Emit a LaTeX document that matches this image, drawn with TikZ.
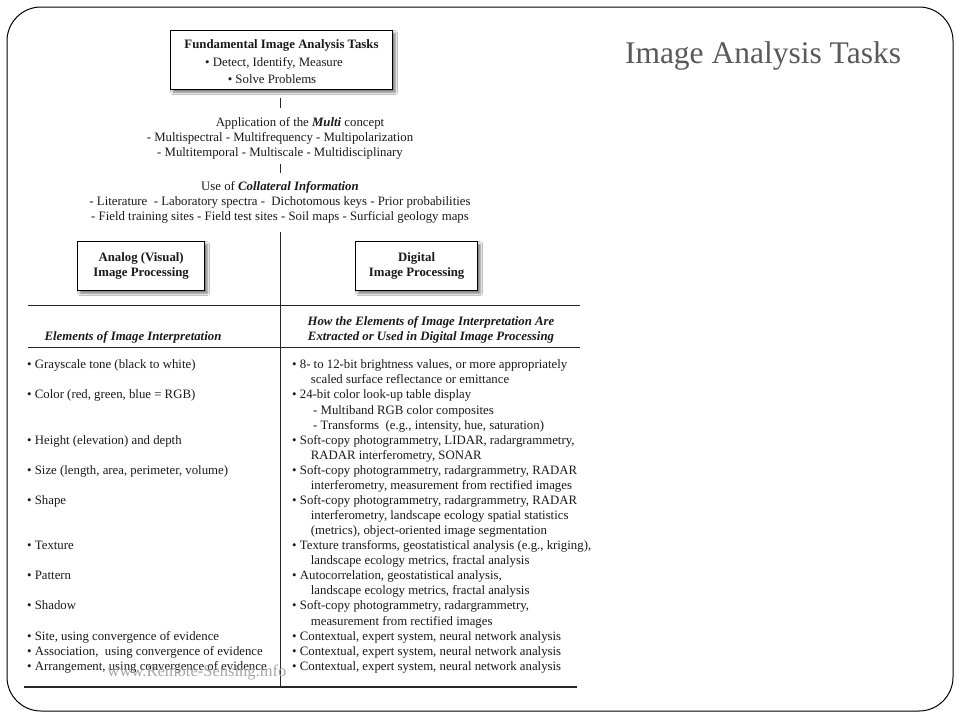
\documentclass[tikz,border=0pt]{standalone}
\usepackage{fontspec}
\setmainfont{Liberation Serif}
\usetikzlibrary{shadows.blur}

\tikzset{
  txt/.style={inner sep=0pt, anchor=base, text=black!90, font=\fontsize{12.8}{15}\selectfont},
  txtl/.style={txt, anchor=base west},
  bld/.style={txt, font=\fontsize{12.8}{15}\selectfont\bfseries},
  bit/.style={txt, font=\fontsize{12.8}{15}\selectfont\bfseries\itshape},
  lbox/.style={draw=black, line width=1.3pt, fill=white, inner sep=0pt,
    blur shadow={shadow xshift=2.5pt, shadow yshift=-2.5pt, shadow blur radius=2.5pt, shadow opacity=55}},
  rule/.style={line width=1.1pt, black!85},
  tick/.style={line width=1pt, black!85},
}
\newcommand\ind{\hspace*{18.7pt}}
\newcommand\sub{\hspace*{21pt}}

\begin{document}
\begin{tikzpicture}[x=1pt,y=-1pt]
\useasboundingbox (0,0) rectangle (960,720);
\fill[white] (0,0) rectangle (960,720);
\draw[line width=1pt, rounded corners=34pt] (7,7) rectangle (953,711);

% title
\node[txt, text=black!65, font=\fontsize{31.5}{36}\selectfont] (title) at (763,63.3) {Image Analysis Tasks};

% top box
\node[lbox, anchor=north west, minimum width=222pt, minimum height=59pt] (top) at (170,30) {};
\node[bld] (t1) at (281.5,48.3) {Fundamental Image Analysis Tasks};
\node[txt] (t2) at (274,66) {• Detect, Identify, Measure};
\node[txt] (t3) at (272,83.3) {• Solve Problems};

% multi concept
\node[txt] (m1) at (300,126) {Application of the \textbf{\textit{Multi}} concept};
\node[txt] (m2) at (280,141) {- Multispectral - Multifrequency - Multipolarization};
\node[txt] (m3) at (280,156) {- Multitemporal - Multiscale - Multidisciplinary};
\node[txt] (c1) at (280,190.5) {Use of \textbf{\textit{Collateral Information}}};
\node[txt] (c2) at (280,205.5) {- Literature\ \ - Laboratory spectra -\ \ Dichotomous keys - Prior probabilities};
\node[txt] (c3) at (280,220.5) {- Field training sites - Field test sites - Soil maps - Surficial geology maps};

% ticks
\coordinate (k1a) at (280,98);  \coordinate (k1b) at (280,108);
\coordinate (k2a) at (280,164); \coordinate (k2b) at (280,173);
\draw[tick] (k1a) -- (k1b);
\draw[tick] (k2a) -- (k2b);

% divider
\coordinate (dtop) at (280.5,232);
\coordinate (dbot) at (280.5,688);
\draw[rule] (dtop) -- (dbot);

% analog / digital boxes
\node[lbox, anchor=north west, minimum width=127pt, minimum height=49pt, align=center,
  font=\fontsize{12.8}{15}\selectfont\bfseries, text=black!90] (ana) at (77,241) {Analog (Visual)\\Image Processing};
\node[lbox, anchor=north west, minimum width=122pt, minimum height=49pt, align=center,
  font=\fontsize{12.8}{15}\selectfont\bfseries, text=black!90] (dig) at (355,241) {Digital\\Image Processing};

% rules
\draw[rule] (28,305.7) -- (580,305.7);
\draw[rule] (28,347.5) -- (580,347.5);
\draw[rule] (24,687) -- (577,687);

% headers
\node[bit] (h1) at (133,340) {Elements of Image Interpretation};
\node[bit] (h2) at (431,325) {How the Elements of Image Interpretation Are};
\node[bit] (h3) at (431,340) {Extracted or Used in Digital Image Processing};

% left column
\foreach \k/\t in {0/{• Grayscale tone (black to white)},
  2/{• Color (red, green, blue = RGB)},
  5/{• Height (elevation) and depth},
  7/{• Size (length, area, perimeter, volume)},
  9/{• Shape},
  12/{• Texture},
  14/{• Pattern},
  16/{• Shadow},
  18/{• Site, using convergence of evidence},
  19/{• Association,\ \ using convergence of evidence},
  20/{• Arrangement, using convergence of evidence}}
  \node[txtl] (L\k) at (27,368.8+15.07*\k) {\t};

% right column
\foreach \k/\t in {0/{• 8- to 12-bit brightness values, or more appropriately},
  1/{\ind scaled surface reflectance or emittance},
  2/{• 24-bit color look-up table display},
  3/{\sub - Multiband RGB color composites},
  4/{\sub - Transforms\ \ (e.g., intensity, hue, saturation)},
  5/{• Soft-copy photogrammetry, LIDAR, radargrammetry,},
  6/{\ind RADAR interferometry, SONAR},
  7/{• Soft-copy photogrammetry, radargrammetry, RADAR},
  8/{\ind interferometry, measurement from rectified images},
  9/{• Soft-copy photogrammetry, radargrammetry, RADAR},
  10/{\ind interferometry, landscape ecology spatial statistics},
  11/{\ind (metrics), object-oriented image segmentation},
  12/{• Texture transforms, geostatistical analysis (e.g., kriging),},
  13/{\ind landscape ecology metrics, fractal analysis},
  14/{• Autocorrelation, geostatistical analysis,},
  15/{\ind landscape ecology metrics, fractal analysis},
  16/{• Soft-copy photogrammetry, radargrammetry,},
  17/{\ind measurement from rectified images},
  18/{• Contextual, expert system, neural network analysis},
  19/{• Contextual, expert system, neural network analysis},
  20/{• Contextual, expert system, neural network analysis}}
  \node[txtl] (R\k) at (292,368.8+15.07*\k) {\t};

% watermark
\node[txt, text=gray!70, font=\fontsize{16.5}{18}\selectfont] (wm) at (197,676.7) {www.Remote-Sensing.info};
\end{tikzpicture}
\end{document}
